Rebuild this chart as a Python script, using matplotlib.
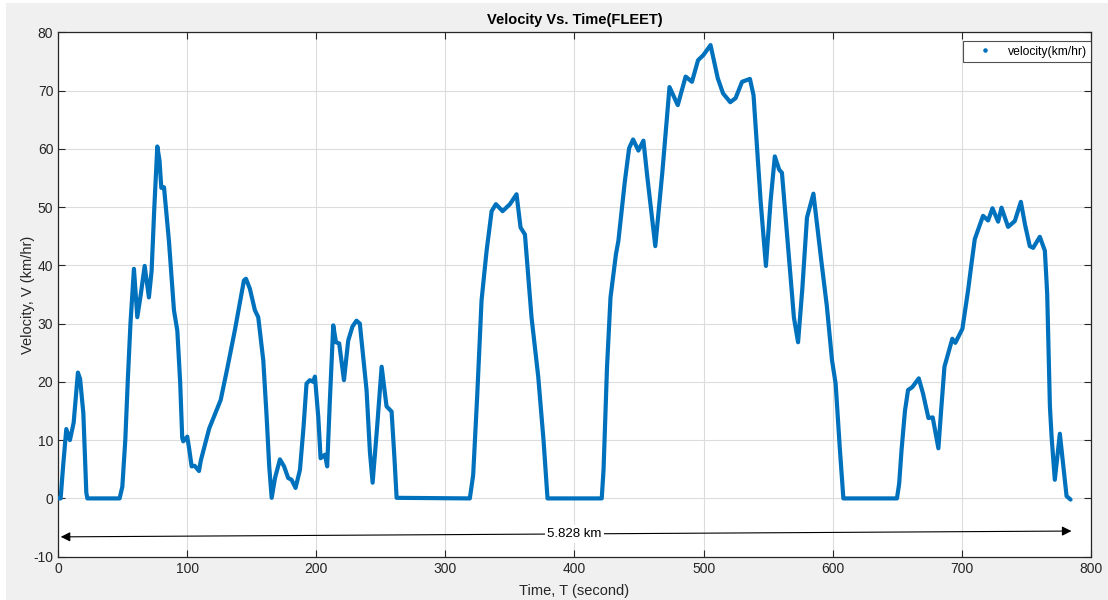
import numpy as np
import matplotlib
matplotlib.use('Agg')
import matplotlib.pyplot as plt
from matplotlib.patches import Rectangle

plt.rcParams['font.family'] = ['Liberation Sans', 'DejaVu Sans']
plt.rcParams['axes.unicode_minus'] = False

# Pontos: tempo (s) e velocidade (km/h)
tempo = [0, 1.9, 4, 6.3, 9.1, 12, 15.3, 17, 19.5, 21.8, 22.6,
         47.6, 49.7, 52, 54, 56, 58.7, 61.3, 64, 67, 70.3, 72.4, 74.5, 76.8, 78.5, 79.9, 82,
         85.8, 89.7, 92.3, 94.5, 96.1, 96.9, 100, 101.5, 103.4, 105.7, 109.1, 110.5,
         117, 125.9, 131, 137, 143.9, 145.5, 148.5, 152.4, 155, 158.9, 161.5, 163.5, 165.4,
         168, 171.8, 175, 178.2, 180.8, 183.9, 187.3, 190, 192.4, 195, 197.6, 198.9, 201.5,
         203.3, 206.7, 208.4, 210.5, 213.1, 215.2, 217.7, 221.4, 224.7, 228, 231.1, 233.7,
         238.9, 241.5, 243.6, 247, 250.6, 254.4, 258.3, 260.5, 262.2,
         318.9, 321.5, 324.6, 328, 331.9, 335.8, 339.1, 344.3, 350, 355.1, 358.2, 361.6,
         366.7, 371.9, 376, 379.1,
         421.1, 422.5, 425.2, 427.9, 432.1, 434, 439, 442.3, 445.4, 449.5, 453.4, 456.5,
         462.6, 468.1, 473.6, 480, 486.1, 491, 495.7, 499.9, 505.4, 511, 515.1, 520.7,
         524.8, 529.8, 535.9, 538.7, 544.2, 548.3, 551.9, 555.2, 558.6, 560.7, 566.8,
         570, 573.2, 576.5, 580.1, 585.1, 591.2, 595.5, 599.5, 602.3, 605.6, 608.3,
         649.8, 651.5, 653.4, 656, 658.4, 661.7, 666.7, 670, 674.2, 677.5, 681.9, 684,
         686.6, 692.7, 695, 700.5, 704.9, 707.5, 710.1, 716.5, 720.4, 723.8, 728.2,
         730.8, 735.9, 741.1, 745.8, 749, 752.7, 755.3, 760.5, 764.4, 766.2, 768.3,
         769.6, 772.1, 776, 779, 781.2, 784.3]
velocidade = [0, 0, 6, 11.9, 10, 13, 21.6, 20.5, 14.6, 1, 0,
              0, 2, 10, 20.6, 30, 39.4, 31.1, 35, 39.9, 34.5, 39.1, 50, 60.4, 58, 53.3, 53.4,
              44.2, 32.3, 28.8, 20, 10.4, 9.8, 10.6, 8.5, 5.5, 5.6, 4.7, 6.5,
              12, 16.9, 22.3, 29, 37.4, 37.7, 36, 32.3, 31.1, 23.7, 14, 5.5, 0.1,
              3.5, 6.7, 5.5, 3.5, 3.2, 1.8, 4.9, 12, 19.7, 20.3, 20, 20.9, 14,
              6.9, 7.5, 5.5, 16.9, 29.7, 26.8, 26.6, 20.3, 27.1, 29.5, 30.5, 30,
              18.6, 8, 2.7, 12, 22.6, 15.8, 14.9, 7, 0.1,
              0, 4, 17.5, 34, 42.5, 49.3, 50.5, 49.3, 50.5, 52.2, 46.5, 45.3,
              31.1, 20.9, 10, 0,
              0, 4.9, 22.6, 34.5, 41.9, 44.2, 54.4, 60.1, 61.6, 59.7, 61.4, 55,
              43.3, 56.1, 70.6, 67.5, 72.4, 71.5, 75.2, 76.1, 77.8, 72.1, 69.5, 68,
              68.7, 71.5, 72, 69.2, 51, 39.9, 51, 58.7, 56.4, 55.9, 39.6,
              31, 26.8, 36, 48.2, 52.3, 40.8, 33, 23.7, 19.7, 8.4, 0,
              0, 2.5, 8.4, 15, 18.6, 19.1, 20.6, 18, 13.8, 13.9, 8.6, 15,
              22.6, 27.4, 26.7, 29.1, 35.7, 40.2, 44.5, 48.5, 47.7, 49.8, 47.5,
              49.9, 46.6, 47.6, 50.9, 47, 43.3, 43, 44.9, 42.5, 35.1, 15.8,
              10.6, 3.2, 11.1, 5, 0.4, -0.2]

distancia_txt = '5.828 km'
cor = '#0072BD'

#######################################################

fig = plt.figure(figsize=(11.08, 6.0), dpi=100, facecolor='white')
fig.patches.append(Rectangle((6 / 1108, 0), 1, 1 - 3 / 600, transform=fig.transFigure,
                             facecolor='#f0f0f0', edgecolor='none', zorder=-10))
ax = fig.add_axes([0.0525, 0.0722, 0.932, 0.874])
ax.set_facecolor('white')

ax.plot(tempo, velocidade, '-', color=cor, lw=3.0, solid_joinstyle='round',
        solid_capstyle='round', zorder=3)
ax.plot([], [], '.', color=cor, ms=3, label='velocity(km/hr)')

ax.set_xlim(0, 800)
ax.set_ylim(-10, 80)
ax.set_xticks(np.arange(0, 801, 100))
ax.set_yticks(np.arange(-10, 81, 10))
ax.grid(True, color='#dcdcdc', lw=0.8)
ax.set_axisbelow(True)
ax.tick_params(direction='in', top=True, right=True, length=5, labelsize=10,
               colors='#262626', labelcolor='#262626')
for s in ax.spines.values():
    s.set_color('#262626')
    s.set_linewidth(0.9)

ax.set_title('Velocity Vs. Time(FLEET)', fontsize=10.5, fontweight='bold', pad=6)
ax.set_xlabel('Time, T (second)', fontsize=10.5, color='#262626', labelpad=6)
ax.set_ylabel('Velocity, V (km/hr)', fontsize=10.5, color='#262626', labelpad=-1)

# seta dupla com a distância total
ax.annotate('', xy=(2, -6.6), xytext=(785, -5.6),
            arrowprops=dict(arrowstyle='<|-|>', color='black', lw=0.8,
                            mutation_scale=14, shrinkA=0, shrinkB=0))
ax.text(400, -6.1, distancia_txt, fontsize=9.5, ha='center', va='center',
        bbox=dict(facecolor='white', edgecolor='none', pad=2))

leg = ax.legend(loc='upper right', bbox_to_anchor=(1.0, 1 - 9 / 524.4),
                fontsize=8.7, frameon=True, fancybox=False, edgecolor='#262626',
                handlelength=2.8, handletextpad=0.5, borderaxespad=0,
                borderpad=0.35, markerscale=1.5)
leg.get_frame().set_linewidth(0.8)

plt.savefig('out.png', dpi=100, facecolor=fig.get_facecolor())
